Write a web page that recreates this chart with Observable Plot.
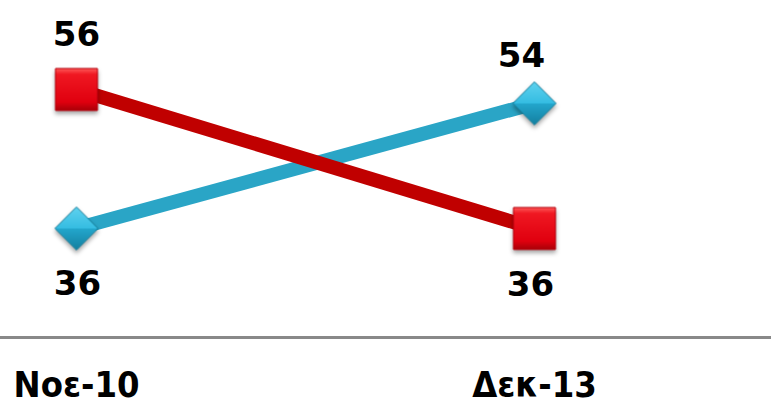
<!DOCTYPE html>
<html>
<head>
<meta charset="utf-8">
<script src="https://cdn.jsdelivr.net/npm/d3@7"></script>
<script src="https://cdn.jsdelivr.net/npm/@observablehq/plot@0.6"></script>
<style>
  html, body { margin: 0; padding: 0; background: #fff; }
  #chart { width: 771px; height: 409px; }
  .marker { filter: drop-shadow(0px 3px 2px rgba(0,0,0,0.35)); }
</style>
</head>
<body>
<svg width="0" height="0" style="position:absolute">
  <defs>
    <linearGradient id="redGrad" x1="0" y1="0" x2="0" y2="1">
      <stop offset="0%" stop-color="#ff5a5a"/>
      <stop offset="14%" stop-color="#f01822"/>
      <stop offset="80%" stop-color="#e0000f"/>
      <stop offset="100%" stop-color="#a80008"/>
    </linearGradient>
    <linearGradient id="blueGrad" x1="0" y1="0" x2="0" y2="1">
      <stop offset="0%" stop-color="#5fd2ef"/>
      <stop offset="49%" stop-color="#35bde2"/>
      <stop offset="51%" stop-color="#23a6cc"/>
      <stop offset="100%" stop-color="#147f9f"/>
    </linearGradient>
  </defs>
</svg>
<div id="chart"></div>
<script>
const dates = ["Νοε-10", "Δεκ-13"];
const redValues = [56, 36];
const blueValues = [36, 54];

const red = dates.map((d, i) => ({date: d, value: redValues[i]}));
const blue = dates.map((d, i) => ({date: d, value: blueValues[i]}));

const numFont = {fontFamily: "DejaVu Sans", fontWeight: "bold", fontSize: 34, fill: "#000"};

const chart = Plot.plot({
  width: 771,
  height: 409,
  marginTop: 0,
  marginLeft: 0,
  marginRight: 0,
  marginBottom: 72,
  style: {background: "#fff", overflow: "visible"},
  x: {type: "point", domain: dates, range: [76, 534], padding: 0},
  y: {domain: [36, 56], range: [228, 89], axis: null},
  marks: [
    Plot.frame({anchor: "bottom", stroke: "#898989", strokeWidth: 3}),
    Plot.axisX({
      tickSize: 0,
      tickPadding: 34,
      fontSize: 36,
      fontWeight: "bold",
      fontFamily: "DejaVu Sans Condensed, DejaVu Sans",
      fill: "#000",
      label: null
    }),
    Plot.line(blue, {x: "date", y: "value", stroke: "#2aa5c6", strokeWidth: 14, strokeLinecap: "butt"}),
    Plot.line(red, {x: "date", y: "value", stroke: "#c00000", strokeWidth: 14, strokeLinecap: "butt"}),
    Plot.dot(blue, {x: "date", y: "value", symbol: "diamond2", r: 19.4, fill: "url(#blueGrad)", stroke: "#167f9c", strokeWidth: 1, className: "marker"}),
    Plot.dot(red, {x: "date", y: "value", symbol: "square", r: 23.7, fill: "url(#redGrad)", stroke: "#b8000c", strokeWidth: 1, className: "marker"}),
    Plot.text(red.filter(d => d.date === dates[0]), {x: "date", y: "value", text: d => String(d.value), lineAnchor: "bottom", dy: -44, ...numFont}),
    Plot.text(red.filter(d => d.date === dates[1]), {x: "date", y: "value", text: d => String(d.value), lineAnchor: "bottom", dy: 67, dx: -4, ...numFont}),
    Plot.text(blue.filter(d => d.date === dates[0]), {x: "date", y: "value", text: d => String(d.value), lineAnchor: "bottom", dy: 66, dx: 1, ...numFont}),
    Plot.text(blue.filter(d => d.date === dates[1]), {x: "date", y: "value", text: d => String(d.value), lineAnchor: "bottom", dy: -36, dx: -13, ...numFont})
  ]
});
document.getElementById("chart").appendChild(chart);
</script>
</body>
</html>
